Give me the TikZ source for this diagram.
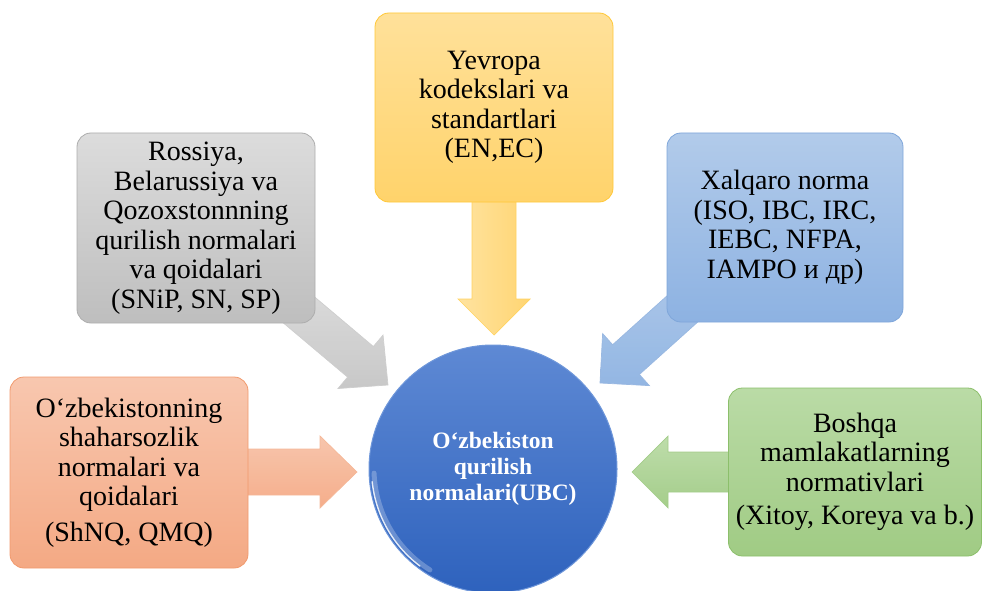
\documentclass[tikz,border=0pt]{standalone}
\usepackage{fontspec}
\setmainfont{Liberation Serif}
\newfontfamily\tnr{Liberation Serif}
\usetikzlibrary{calc}
\definecolor{orTop}{HTML}{F8C7AF}
\definecolor{orBot}{HTML}{F4A984}
\definecolor{orLine}{HTML}{F19A6E}
\definecolor{grTop}{HTML}{DCDCDC}
\definecolor{grBot}{HTML}{BEBEBE}
\definecolor{grLine}{HTML}{ADADAD}
\definecolor{yeTop}{HTML}{FFE19A}
\definecolor{yeBot}{HTML}{FFD36B}
\definecolor{yeLine}{HTML}{FFC838}
\definecolor{blTop}{HTML}{B2CBEA}
\definecolor{blBot}{HTML}{8DB2E2}
\definecolor{blLine}{HTML}{7FA6DA}
\definecolor{gnTop}{HTML}{BADBA6}
\definecolor{gnBot}{HTML}{A0CB84}
\definecolor{gnLine}{HTML}{8CBF6B}
\definecolor{ciTop}{HTML}{5E89D4}
\definecolor{ciBot}{HTML}{2E62BD}
\definecolor{ciLine}{HTML}{6F97DA}
\newcommand\blockarr[6]{%
  \coordinate (#3-base) at ($(#3)!#6!(#2)$);
  \path[#1] ($(#2)!#4!90:(#3)$) -- ($(#3-base)!#4!-90:(#2)$) -- ($(#3-base)!#5!-90:(#2)$) -- (#3)
    -- ($(#3-base)!#5!90:(#2)$) -- ($(#3-base)!#4!90:(#2)$) -- ($(#2)!#4!-90:(#3)$) -- cycle;
}
\begin{document}
\begin{tikzpicture}[x=1pt,y=-1pt,
  box/.style={rounded corners=14pt, align=center, inner sep=0pt, line width=0.8pt,
    font=\tnr\fontsize{28}{29.5}\selectfont},
  arr/.style={line width=0.7pt, fill opacity=0.95}]
\useasboundingbox (0,0) rectangle (983,591);
% anchor coordinates for the block arrows
\coordinate (oS) at (200,472);  \coordinate (oT) at (357,472);
\coordinate (gS) at (800,472);  \coordinate (gT) at (632,472);
\coordinate (yS) at (494,150);  \coordinate (yT) at (494,335);
\coordinate (rS) at (235,256);  \coordinate (rT) at (388,385);
\coordinate (bS) at (749,249);  \coordinate (bT) at (600,383);
% block arrows
\blockarr{arr, draw=orLine!70, top color=orTop!85!orBot, bottom color=orBot}{oS}{oT}{23pt}{36pt}{37pt}
\blockarr{arr, draw=gnLine!80, top color=gnTop, bottom color=gnBot}{gS}{gT}{20pt}{36pt}{36pt}
\blockarr{arr, draw=yeLine!80, left color=yeTop, right color=yeBot}{yS}{yT}{22pt}{36pt}{36pt}
\blockarr{arr, draw=grLine!60, top color=grTop!80!white, bottom color=grBot!90!white}{rS}{rT}{20pt}{35pt}{36pt}
\blockarr{arr, draw=blLine!80, top color=blTop, bottom color=blBot}{bS}{bT}{20pt}{35pt}{35pt}
% boxes
\node[box, draw=grLine, top color=grTop, bottom color=grBot, minimum width=238pt, minimum height=190pt]
  (russia) at (196,228) {Rossiya,\\Belarussiya va\\Qozoxstonnning\\qurilish normalari\\va qoidalari\\(SNiP, SN, SP)};
\node[box, draw=yeLine, top color=yeTop, bottom color=yeBot, minimum width=238pt, minimum height=189pt]
  (europe) at (494,107.5) {Yevropa\\kodekslari va\\standartlari\\(EN,EC)};
\node[box, draw=blLine, top color=blTop, bottom color=blBot, minimum width=236pt, minimum height=189pt]
  (intl) at (785,227.5) {Xalqaro norma\\(ISO, IBC, IRC,\\IEBC, NFPA,\\IAMPO и др)};
\node[box, draw=orLine, top color=orTop, bottom color=orBot, minimum width=238pt, minimum height=191pt]
  (uzb) at (129,472.5) {O‘zbekistonning\\shaharsozlik\\normalari va\\qoidalari\\[6pt](ShNQ, QMQ)};
\node[box, draw=gnLine, top color=gnTop, bottom color=gnBot, minimum width=253pt, minimum height=168pt]
  (other) at (855,472) {Boshqa\\mamlakatlarning\\normativlari\\[4pt](Xitoy, Koreya va b.)};
% centre circle
\node[circle, draw=ciLine, line width=1pt, top color=ciTop, bottom color=ciBot, minimum size=248pt,
  inner sep=0pt, align=center, text=white, font=\tnr\bfseries\fontsize{23.5}{26}\selectfont]
  (ubc) at (493,469) {O‘zbekiston\\qurilish\\normalari(UBC)};
\draw[white, line width=5pt, opacity=0.25, line cap=round]
  (ubc.center) ++(122:119) arc[start angle=122, end angle=178, radius=119];
\draw[white, line width=1.4pt, opacity=0.85, line cap=round]
  (ubc.center) ++(127:121.5) arc[start angle=127, end angle=174, radius=121.5];
\end{tikzpicture}
\end{document}
